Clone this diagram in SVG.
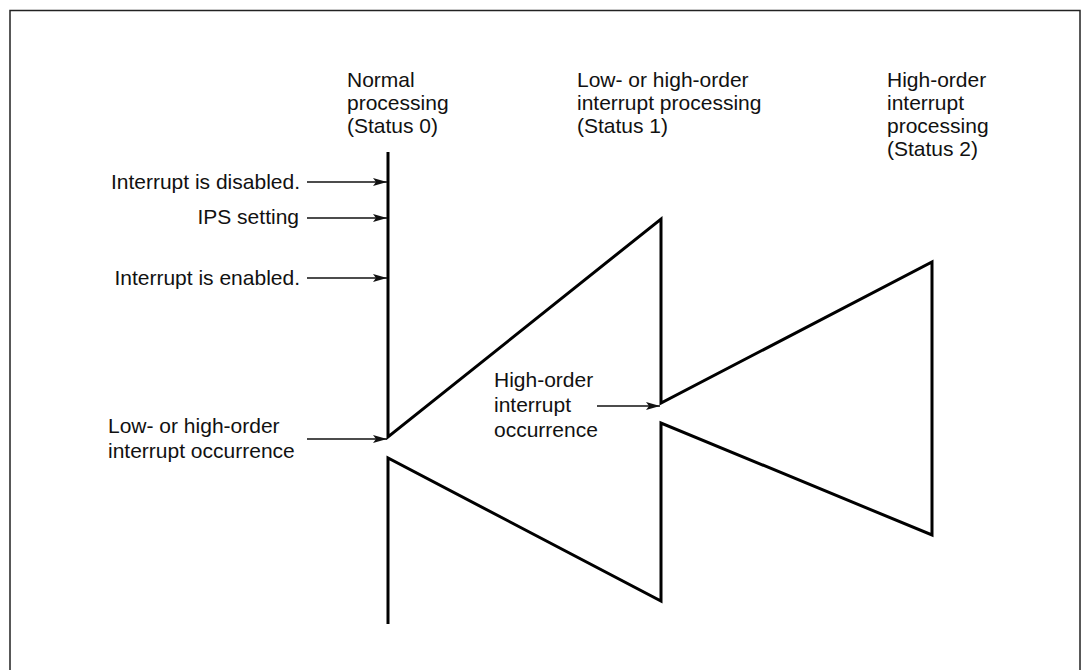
<svg xmlns="http://www.w3.org/2000/svg" width="1083" height="670" viewBox="0 0 1083 670">
<style>
text{font-family:"Liberation Sans",Arial,sans-serif;font-size:21px;fill:#111}
.r{text-anchor:end}
.arr{stroke:#111;stroke-width:1.3;fill:none;marker-end:url(#ah)}
.main{stroke:#000;stroke-width:3;fill:none;stroke-linejoin:miter;stroke-miterlimit:20}
</style>
<defs>
<marker id="ah" markerUnits="userSpaceOnUse" markerWidth="15" markerHeight="10" refX="14" refY="5" orient="auto">
<path d="M0,1 L14,5 L0,9 L3,5 Z" fill="#111"/>
</marker>
</defs>
<rect x="10" y="10.5" width="1070" height="700" fill="#fff" stroke="#222" stroke-width="1.5"/>
<g id="status-lines">
<polyline class="main" points="388,152 388,437 661,219 661,403 932,262 932,535 661,423 661,601 388,458 388,624"/>
</g>
<g id="status0">
<text x="347" y="87">Normal</text>
<text x="347" y="110">processing</text>
<text x="347" y="133">(Status 0)</text>
</g>
<g id="status1">
<text x="577" y="87">Low- or high-order</text>
<text x="577" y="110">interrupt processing</text>
<text x="577" y="133">(Status 1)</text>
</g>
<g id="status2">
<text x="887" y="87">High-order</text>
<text x="887" y="110">interrupt</text>
<text x="887" y="133">processing</text>
<text x="887" y="156">(Status 2)</text>
</g>
<g id="label-disabled"><text class="r" x="300" y="189">Interrupt is disabled.</text></g>
<g id="label-ips"><text class="r" x="299" y="224">IPS setting</text></g>
<g id="label-enabled"><text class="r" x="300" y="285">Interrupt is enabled.</text></g>
<g id="label-occ1">
<text x="108" y="433">Low- or high-order</text>
<text x="108" y="458">interrupt occurrence</text>
</g>
<g id="label-occ2">
<text x="494" y="387">High-order</text>
<text x="494" y="412">interrupt</text>
<text x="494" y="437">occurrence</text>
</g>
<g id="connectors">
<line class="arr" x1="307" y1="182" x2="387" y2="182"/>
<line class="arr" x1="307" y1="218" x2="387" y2="218"/>
<line class="arr" x1="307" y1="278" x2="387" y2="278"/>
<line class="arr" x1="307" y1="439" x2="387" y2="439"/>
<line class="arr" x1="597" y1="406" x2="660" y2="406"/>
</g>
</svg>
